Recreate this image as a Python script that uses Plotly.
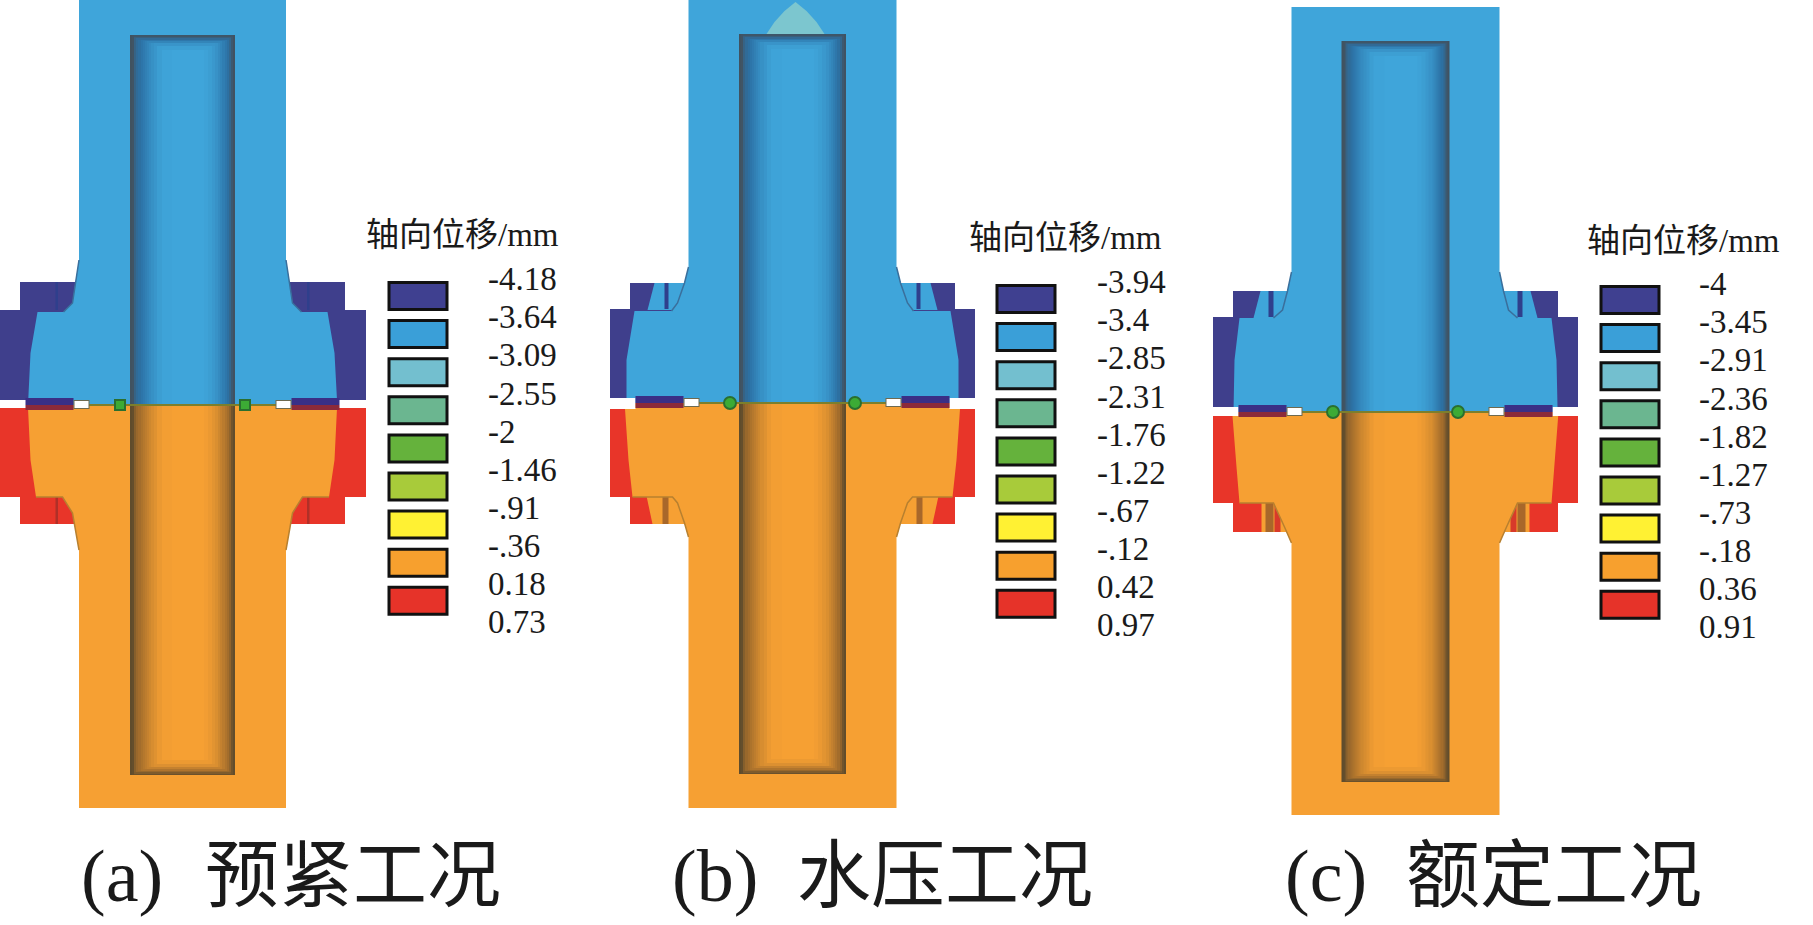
import plotly.graph_objects as go

# ---------- legend data ----------
TITLE = "轴向位移/mm"
LEVELS_A = ["-4.18", "-3.64", "-3.09", "-2.55", "-2", "-1.46", "-.91", "-.36", "0.18", "0.73"]
LEVELS_B = ["-3.94", "-3.4", "-2.85", "-2.31", "-1.76", "-1.22", "-.67", "-.12", "0.42", "0.97"]
LEVELS_C = ["-4", "-3.45", "-2.91", "-2.36", "-1.82", "-1.27", "-.73", "-.18", "0.36", "0.91"]
LEVEL_COLORS = ["#3f4090", "#3a9fd8", "#73bfcf", "#6bb690", "#65b23c", "#a8cb3a", "#fff133", "#f7a02e", "#e63329"]
CAPTIONS = [("(a)", "预紧工况"), ("(b)", "水压工况"), ("(c)", "额定工况")]

# ---------- section profiles: radius from the axis and height ----------
CENTERS = [182.5, 792.5, 1395.5]
# upper blue body (r, y) from the top of the part to the joint
UP_A_R = [103.5, 103.5, 107, 110, 119, 145, 152, 154.5, 154.5]
UP_A_Y = [0, 260, 282, 303, 312, 312, 353, 400, 405]
UP_B_R = [104, 104, 108, 115, 121, 158, 166, 166, 166]
UP_B_Y = [0, 267, 283, 303, 311, 311, 360, 398, 403]
UP_C_R = [104, 104, 108, 113, 122, 156, 161, 162, 162]
UP_C_Y = [7, 272, 291, 310, 318, 318, 360, 407, 412]
# lower orange body from the joint to the bottom of the part
LO_A_R = [154.5, 154.5, 152, 146.5, 120, 110, 103.5, 103.5]
LO_A_Y = [405, 408, 460, 497, 497, 513, 550, 808]
LO_B_R = [167.5, 167.5, 164, 160, 120, 115, 108, 104, 104]
LO_B_Y = [403, 409, 460, 497, 497, 503, 523, 537, 808]
LO_C_R = [163, 163, 159, 156, 122, 111, 104, 104]
LO_C_Y = [412, 416, 467, 503, 503, 527, 543, 815]
# flange levels: small top, large top, large bottom, lower large top, lower large bottom, small bottom
FL_A = [282, 310, 400, 408, 497, 524]
FL_B = [283, 309, 398, 409, 497, 524]
FL_C = [291, 317, 407, 416, 503, 532]
FLANGE_BIG = [183.5, 182.5, 182.5]
FLANGE_SMALL = [162.5, 162.5, 162.5]
BORE_R = [52.5, 53.5, 54]
BORE_TOP = [35, 34, 41]
BORE_BOT = [775, 774, 782]
JOINT = [405, 403, 412]
# dark zone on the small upper flange: r at its top and bottom
UPPER_ZONE = [None, (138, 145), (135, 142)]
UPPER_STRIPES = [[(124.5, 127)], [(124, 128)], [(122, 127)]]
LOWER_ZONE = [None, (146, 140), (134, 134)]
LOWER_STRIPES = [[(124.5, 127)], [(124, 130)], [(122, 130), (115, 121)]]
# across the bore: cell edges and brightness of each cell
BORE_T = [0, .02, .04, .06, .08, .10, .12, .14, .16, .18, .20, .23, .26, .30, .40, .50, .60, .70, .74, .78,
          .81, .84, .86, .88, .90, .92, .94, .96, .98, 1.0]
BORE_SHADE = [.02, .05, .25, .36, .42, .48, .54, .6, .66, .72, .78, .84, .92, .98, 1, 1, 1, .97, .92, .86,
              .8, .72, .65, .58, .5, .42, .3, .12, .03]
END_D = [0, 1.5, 3, 4.5, 6, 8, 11, 15]
END_SHADE = [.08, .2, .35, .5, .65, .82, .93]

BLUE, ORANGE, DARK, RED = "#3fa5da", "#f6a033", "#3f3f8c", "#e83529"
SERIF = "Liberation Serif, Noto Sans CJK SC, serif"

fig = go.Figure()
TOP = dict(xaxis="x2", yaxis="y2")


def poly(xs, ys, color, top=False):
    fig.add_trace(go.Scatter(x=xs, y=ys, mode="lines", fill="toself", fillcolor=color,
                             line=dict(width=0), hoverinfo="skip", showlegend=False, **(TOP if top else {})))


def rect(cx, r0, r1, y0, y1, color, top=False):
    """Draw a pair of mirrored rectangles."""
    for s in (-1, 1):
        poly([cx + s * r0, cx + s * r1, cx + s * r1, cx + s * r0], [y0, y0, y1, y1], color, top)


def edge(cx, rs, ys, color):
    for s in (-1, 1):
        fig.add_trace(go.Scatter(x=[cx + s * r for r in rs], y=ys, mode="lines", hoverinfo="skip", showlegend=False,
                                 line=dict(color=color, width=1.5), **TOP))


def bore(cx, r, y0, y1, base, mid, dark, top_edge):
    xs = [cx - r + 2 * r * t for t in BORE_T]
    if top_edge:
        ys = [y0 + d for d in END_D] + [y1]
        ends = END_SHADE + [1]
    else:
        ys = [y0] + [y1 - d for d in reversed(END_D)]
        ends = [1] + list(reversed(END_SHADE))
    z = [[min(a, b) for a in BORE_SHADE] for b in ends]
    fig.add_trace(go.Heatmap(x=xs, y=ys, z=z, zmin=0, zmax=1, showscale=False, hoverinfo="skip",
                             colorscale=[[0, dark], [.45, mid], [1, base]], **TOP))


panels = [
    (UP_A_R, UP_A_Y, LO_A_R, LO_A_Y, FL_A),
    (UP_B_R, UP_B_Y, LO_B_R, LO_B_Y, FL_B),
    (UP_C_R, UP_C_Y, LO_C_R, LO_C_Y, FL_C),
]

for i, (ur, uy, lr, ly, fl) in enumerate(panels):
    cx = CENTERS[i]
    big, small = FLANGE_BIG[i], FLANGE_SMALL[i]
    j = JOINT[i]

    # upper flanges
    rect(cx, 90, big, fl[1], fl[2], DARK)
    if UPPER_ZONE[i] is None:
        rect(cx, 90, small, fl[0], fl[1] + 1, DARK)
    else:
        rect(cx, 90, small, fl[0], fl[1] + 1, BLUE)
        a, b = UPPER_ZONE[i]
        for s in (-1, 1):
            poly([cx + s * a, cx + s * small, cx + s * small, cx + s * b],
                 [fl[0], fl[0], fl[1] + 1, fl[1] + 1], DARK)
    for a, b in UPPER_STRIPES[i]:
        rect(cx, a, b, fl[0], fl[1], "#2f3f8c")

    # lower flanges
    rect(cx, 90, big, fl[3], fl[4], RED)
    if LOWER_ZONE[i] is None:
        rect(cx, 90, small, fl[4] - 1, fl[5], RED)
    else:
        rect(cx, 90, small, fl[4] - 1, fl[5], ORANGE)
        a, b = LOWER_ZONE[i]
        for s in (-1, 1):
            poly([cx + s * a, cx + s * small, cx + s * small, cx + s * b],
                 [fl[4] - 1, fl[4] - 1, fl[5], fl[5]], RED)
    for k, (a, b) in enumerate(LOWER_STRIPES[i]):
        col = "#a8672a" if k == 0 and i != 0 else ("#d83a2a" if i == 2 else "#b03028")
        rect(cx, a, b, fl[4], fl[5], col)

    # bodies
    poly([cx - r for r in ur] + [cx + r for r in reversed(ur)], uy + list(reversed(uy)), BLUE)
    poly([cx - r for r in lr] + [cx + r for r in reversed(lr)], ly + list(reversed(ly)), ORANGE)

    # white gap outside the gasket, over the body corners
    rect(cx, 157, big + 1, fl[2], fl[3], "white", True)

    # water-pressure dome
    if i == 1:
        poly([cx - 26, cx - 18, cx - 8, cx + 3, cx + 14, cx + 24, cx + 32, cx - 26],
             [34, 22, 11, 2, 11, 22, 34, 34], "#7cc6cf", True)

    # gasket strip
    rect(cx, 109, 157, j - 7, j, "#3a2f86", True)
    rect(cx, 109, 157, j, j + 5, "#8c2a3a", True)

    # joint line
    fig.add_trace(go.Scatter(x=[cx - 94, cx + 94], y=[j, j], mode="lines", line=dict(color="#7c7f2c", width=2),
                             hoverinfo="skip", showlegend=False, **TOP))
    # bolt hole boxes
    rect(cx, 93, 109, j - 5, j + 4, "#6e6a50", True)
    rect(cx, 94, 108, j - 4, j + 3, "white", True)

    # fillet outlines
    edge(cx, ur[1:5], uy[1:5], "#3a6f9c")
    lo_edge = [k for k in range(len(lr)) if ly[k] >= fl[4] and ly[k] <= fl[5] + 26]
    edge(cx, [lr[k] for k in lo_edge], [ly[k] for k in lo_edge], "#b8802f")

    # bore
    r = BORE_R[i]
    bore(cx, r, BORE_TOP[i], j, BLUE, "#2c72a6", "#42505c", True)
    bore(cx, r, j, BORE_BOT[i], ORANGE, "#a8702c", "#5c4a2c", False)

    # seal rings
    fig.add_trace(go.Scatter(x=[cx - 62.5, cx + 62.5], y=[j, j], mode="markers", hoverinfo="skip", showlegend=False,
                             marker=dict(symbol="square" if i == 0 else "circle", size=10 if i == 0 else 12,
                                         color="#3cab35", line=dict(color="#2a6f2f", width=2)), **TOP))

# ---------- legends ----------
LEG_X = [389, 997, 1601]      # swatch left
LAB_X = [488, 1097, 1699]
TIT_X = [366, 969, 1587]
SW_TOP = [296, 299, 300]
LAB_TOP = [282, 285, 287]
TIT_Y = [238, 241, 244]
PITCH = 38.1

for i, levels in enumerate((LEVELS_A, LEVELS_B, LEVELS_C)):
    fig.add_trace(go.Bar(orientation="h", base=[LEG_X[i]] * 9, x=[58] * 9,
                         y=[SW_TOP[i] + k * PITCH for k in range(9)], width=27,
                         marker=dict(color=LEVEL_COLORS, line=dict(color="#111111", width=3)),
                         hoverinfo="skip", showlegend=False))
    fig.add_trace(go.Scatter(x=[LAB_X[i]] * 10, y=[LAB_TOP[i] + k * PITCH for k in range(10)], text=levels,
                             mode="text", textposition="middle right", hoverinfo="skip", showlegend=False,
                             textfont=dict(family=SERIF, size=33, color="#1a1a1a")))
    fig.add_trace(go.Scatter(x=[TIT_X[i]], y=[TIT_Y[i]], text=[TITLE], mode="text", textposition="middle right",
                             hoverinfo="skip", showlegend=False,
                             textfont=dict(family=SERIF, size=33, color="#1a1a1a")))

# ---------- captions ----------
CAP_X1 = [81, 672, 1285]
CAP_X2 = [205, 797, 1406]
CAP_Y = 882
for i, (a, b) in enumerate(CAPTIONS):
    fig.add_trace(go.Scatter(x=[CAP_X1[i], CAP_X2[i]], y=[CAP_Y, CAP_Y], text=[a, b], mode="text",
                             textposition="middle right", hoverinfo="skip", showlegend=False,
                             textfont=dict(family=SERIF, size=74, color="#1a1a1a")))

fig.update_layout(width=1813, height=925, margin=dict(l=0, r=0, t=0, b=0), paper_bgcolor="white",
                  plot_bgcolor="white", barmode="overlay", showlegend=False,
                  xaxis=dict(range=[0, 1813], visible=False, fixedrange=True),
                  yaxis=dict(range=[925, 0], visible=False, fixedrange=True),
                  xaxis2=dict(range=[0, 1813], visible=False, fixedrange=True, overlaying="x"),
                  yaxis2=dict(range=[925, 0], visible=False, fixedrange=True, overlaying="y"))
fig.write_html("out.html", config={"displayModeBar": False},
               post_script="document.body.style.margin='0';")
